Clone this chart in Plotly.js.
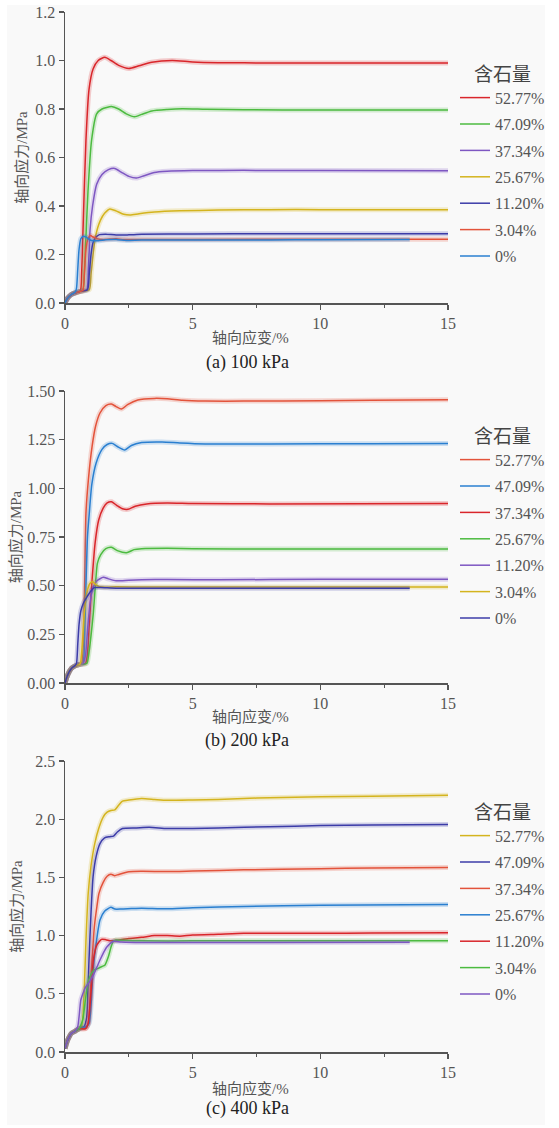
<!DOCTYPE html>
<html>
<head>
<meta charset="utf-8">
<script src="https://cdn.plot.ly/plotly-3.0.1.min.js"></script>
<style>html,body{margin:0;padding:0;background:#fff;}#chart{width:559px;height:1128px;}</style>
</head>
<body>
<div id="chart"></div>
<script>
// ---------- DATA ----------
const seriesNames = ['52.77%', '47.09%', '37.34%', '25.67%', '11.20%', '3.04%', '0%'];
const panelCaptions = ['(a) 100 kPa', '(b) 200 kPa', '(c) 400 kPa'];
const xTitle = '轴向应变/%';
const yTitle = '轴向应力/MPa';
const legendTitle = '含石量';

// Panel (a) 100 kPa
const a_5277_x = [0,0.1,0.25,0.4,0.6,0.65,0.72,0.82,0.94,1.1,1.3,1.56,1.8,2.1,2.5,2.9,3.4,4.2,5,6,8,10,12,15];
const a_5277_y = [0,0.02,0.035,0.042,0.05,0.12,0.35,0.67,0.88,0.965,1.0,1.013,1.0,0.98,0.967,0.978,0.993,1.0,0.994,0.991,0.99,0.99,0.99,0.99];
const a_4709_x = [0,0.1,0.25,0.4,0.55,0.7,0.76,0.82,0.9,1.04,1.24,1.45,1.82,2.1,2.4,2.73,3.0,3.4,4.0,4.6,5.5,7,10,12,15];
const a_4709_y = [0,0.02,0.035,0.042,0.047,0.052,0.13,0.27,0.46,0.67,0.78,0.8,0.81,0.8,0.78,0.768,0.778,0.792,0.798,0.801,0.799,0.797,0.796,0.796,0.796];
const a_3734_x = [0,0.1,0.25,0.4,0.6,0.85,0.92,0.98,1.08,1.24,1.45,1.7,1.95,2.2,2.5,2.8,3.1,3.5,4,5,7,10,15];
const a_3734_y = [0,0.02,0.035,0.042,0.048,0.055,0.15,0.3,0.4,0.49,0.53,0.55,0.555,0.54,0.522,0.515,0.525,0.538,0.543,0.546,0.547,0.546,0.545];
const a_2567_x = [0,0.1,0.25,0.4,0.6,0.95,1.02,1.1,1.17,1.28,1.39,1.55,1.76,2.0,2.3,2.55,2.9,3.5,4.5,6,8,10,15];
const a_2567_y = [0,0.02,0.035,0.042,0.048,0.055,0.12,0.2,0.26,0.31,0.342,0.37,0.388,0.38,0.366,0.363,0.368,0.375,0.38,0.383,0.385,0.385,0.385];
const a_1120_x = [0,0.1,0.25,0.4,0.6,0.88,0.95,1.02,1.1,1.2,1.35,1.6,2,2.5,3,5,8,15];
const a_1120_y = [0,0.02,0.035,0.042,0.048,0.055,0.12,0.2,0.25,0.27,0.282,0.284,0.28,0.281,0.283,0.285,0.286,0.286];
const a_304_x = [0,0.1,0.25,0.4,0.6,0.7,0.76,0.82,0.9,1.0,1.1,1.25,1.5,2,2.3,3,5,10,15];
const a_304_y = [0,0.02,0.035,0.042,0.048,0.052,0.12,0.22,0.265,0.278,0.272,0.265,0.262,0.265,0.262,0.262,0.262,0.263,0.263];
const a_0_x = [0,0.1,0.25,0.4,0.45,0.5,0.55,0.62,0.72,0.82,0.95,1.05,1.3,1.6,2,2.4,3,5,8,10,13.5];
const a_0_y = [0,0.02,0.035,0.045,0.06,0.14,0.22,0.265,0.275,0.272,0.262,0.258,0.257,0.261,0.262,0.258,0.26,0.26,0.26,0.261,0.262];

// Panel (b) 200 kPa
const b_5277_x = [0,0.1,0.25,0.4,0.55,0.65,0.72,0.77,0.82,0.92,1.06,1.2,1.37,1.6,1.82,2.0,2.21,2.45,2.85,3.5,4.0,4.6,5.5,7,10,12,15];
const b_5277_y = [0,0.04,0.075,0.088,0.095,0.1,0.2,0.5,0.87,1.05,1.214,1.32,1.387,1.425,1.433,1.42,1.407,1.43,1.454,1.462,1.46,1.452,1.448,1.448,1.45,1.452,1.455];
const b_4709_x = [0,0.1,0.25,0.4,0.55,0.7,0.76,0.82,0.88,0.95,1.05,1.22,1.45,1.65,1.85,2.05,2.34,2.6,3.0,3.8,4.5,5.5,8,12,15];
const b_4709_y = [0,0.04,0.075,0.088,0.095,0.1,0.2,0.5,0.75,0.87,1.02,1.13,1.2,1.225,1.231,1.215,1.197,1.22,1.235,1.238,1.233,1.228,1.228,1.229,1.23];
const b_3734_x = [0,0.1,0.25,0.4,0.55,0.8,0.88,0.95,1.06,1.18,1.32,1.5,1.65,1.82,2.05,2.25,2.47,2.75,3.2,4,5,8,15];
const b_3734_y = [0,0.04,0.075,0.088,0.095,0.1,0.15,0.3,0.529,0.72,0.837,0.9,0.925,0.931,0.91,0.895,0.892,0.908,0.92,0.925,0.922,0.92,0.922];
const b_2567_x = [0,0.1,0.25,0.4,0.55,0.85,0.93,1.0,1.11,1.2,1.27,1.4,1.6,1.82,2.05,2.41,2.7,3.0,4,5,8,15];
const b_2567_y = [0,0.04,0.075,0.088,0.095,0.1,0.15,0.22,0.36,0.52,0.616,0.66,0.69,0.697,0.68,0.669,0.685,0.69,0.692,0.69,0.688,0.688];
const b_1120_x = [0,0.1,0.25,0.4,0.55,0.7,0.8,0.9,1.0,1.1,1.25,1.5,1.7,2.0,2.5,3,4,6,10,15];
const b_1120_y = [0,0.04,0.075,0.088,0.095,0.1,0.14,0.3,0.43,0.49,0.525,0.543,0.535,0.525,0.528,0.53,0.532,0.53,0.533,0.533];
const b_304_x = [0,0.1,0.25,0.4,0.55,0.6,0.68,0.75,0.85,0.97,1.09,1.2,1.35,1.6,2,3,5,10,15];
const b_304_y = [0,0.04,0.075,0.088,0.095,0.1,0.2,0.35,0.46,0.51,0.52,0.505,0.495,0.492,0.494,0.493,0.493,0.493,0.493];
const b_0_x = [0,0.1,0.25,0.4,0.45,0.5,0.55,0.62,0.72,0.85,1.0,1.15,1.4,2,3,5,8,13.5];
const b_0_y = [0,0.04,0.075,0.09,0.1,0.2,0.3,0.37,0.41,0.44,0.47,0.49,0.49,0.487,0.487,0.487,0.487,0.487];

// Panel (c) 400 kPa
const c_5277_x = [0,0.1,0.25,0.4,0.55,0.65,0.7,0.75,0.82,0.91,1.02,1.17,1.32,1.5,1.65,1.8,1.95,2.1,2.25,2.5,3.0,3.5,4,5,6,7,8,10,12,15];
const c_5277_y = [0.03,0.1,0.16,0.18,0.2,0.22,0.3,0.507,0.95,1.366,1.6,1.795,1.92,2.02,2.06,2.075,2.08,2.12,2.155,2.165,2.178,2.17,2.162,2.165,2.17,2.178,2.185,2.192,2.198,2.205];
const c_4709_x = [0,0.1,0.25,0.4,0.55,0.75,0.85,0.9,0.94,1.02,1.1,1.22,1.37,1.55,1.75,1.9,2.05,2.25,2.8,3.3,4,5,6,8,10,12,15];
const c_4709_y = [0.03,0.1,0.16,0.18,0.2,0.22,0.3,0.55,0.79,1.2,1.506,1.68,1.79,1.84,1.85,1.855,1.89,1.92,1.925,1.93,1.92,1.92,1.925,1.935,1.945,1.95,1.955];
const c_3734_x = [0,0.1,0.25,0.4,0.55,0.8,0.92,0.98,1.05,1.15,1.25,1.33,1.5,1.65,1.8,1.95,2.1,2.5,3,4,5,7,10,12,15];
const c_3734_y = [0.03,0.1,0.16,0.18,0.2,0.2,0.25,0.45,0.75,1.076,1.25,1.363,1.46,1.51,1.526,1.515,1.525,1.548,1.552,1.55,1.555,1.565,1.575,1.58,1.584];
const c_2567_x = [0,0.1,0.25,0.4,0.55,0.85,0.95,1.02,1.1,1.22,1.37,1.55,1.8,1.95,2.2,2.6,3,4,5,7,10,15];
const c_2567_y = [0.03,0.1,0.16,0.18,0.2,0.22,0.25,0.4,0.7,0.934,1.134,1.21,1.243,1.228,1.228,1.232,1.235,1.23,1.24,1.25,1.26,1.268];
const c_1120_x = [0,0.1,0.25,0.4,0.55,0.8,0.9,0.98,1.05,1.11,1.25,1.43,1.6,1.8,2.0,2.5,3.0,3.5,4,4.5,5,6,7,8,10,12,15];
const c_1120_y = [0.03,0.1,0.16,0.18,0.2,0.2,0.24,0.4,0.6,0.79,0.92,0.968,0.965,0.955,0.96,0.975,0.985,1.0,1.0,0.995,1.005,1.012,1.02,1.02,1.02,1.022,1.025];
const c_304_x = [0,0.1,0.25,0.4,0.55,0.6,0.7,0.8,0.9,1.04,1.15,1.3,1.45,1.56,1.7,1.8,1.88,2.0,2.2,3,5,8,15];
const c_304_y = [0.03,0.1,0.16,0.18,0.2,0.22,0.28,0.45,0.6,0.676,0.705,0.719,0.735,0.746,0.82,0.9,0.948,0.962,0.96,0.955,0.955,0.955,0.956];
const c_0_x = [0,0.1,0.25,0.4,0.5,0.55,0.62,0.7,0.78,0.95,1.11,1.25,1.37,1.5,1.63,1.88,2.2,3,5,8,13.5];
const c_0_y = [0.03,0.1,0.16,0.18,0.22,0.3,0.447,0.5,0.547,0.6,0.66,0.73,0.79,0.85,0.9,0.95,0.945,0.94,0.94,0.94,0.942];

// ---------- STYLE ----------
const C = {
  red: '#d9262b', green: '#4cbb40', purple: '#7e57c2', gold: '#d4b41e',
  indigo: '#3c3ca8', orange: '#e3533b', blue: '#2a7fd0'
};
const panels = [
  { data: [[a_5277_x,a_5277_y],[a_4709_x,a_4709_y],[a_3734_x,a_3734_y],[a_2567_x,a_2567_y],[a_1120_x,a_1120_y],[a_304_x,a_304_y],[a_0_x,a_0_y]],
    colors: [C.red, C.green, C.purple, C.gold, C.indigo, C.orange, C.blue] },
  { data: [[b_5277_x,b_5277_y],[b_4709_x,b_4709_y],[b_3734_x,b_3734_y],[b_2567_x,b_2567_y],[b_1120_x,b_1120_y],[b_304_x,b_304_y],[b_0_x,b_0_y]],
    colors: [C.orange, C.blue, C.red, C.green, C.purple, C.gold, C.indigo] },
  { data: [[c_5277_x,c_5277_y],[c_4709_x,c_4709_y],[c_3734_x,c_3734_y],[c_2567_x,c_2567_y],[c_1120_x,c_1120_y],[c_304_x,c_304_y],[c_0_x,c_0_y]],
    colors: [C.gold, C.indigo, C.orange, C.blue, C.red, C.green, C.purple] }
];

function hexA(hex, a) {
  const n = parseInt(hex.slice(1), 16);
  return 'rgba(' + ((n >> 16) & 255) + ',' + ((n >> 8) & 255) + ',' + (n & 255) + ',' + a + ')';
}

const W = 559, H = 1128;
const FONT = 'Liberation Serif, Noto Sans CJK SC, serif';
const px2x = p => p / W;
const py2y = p => 1 - p / H;
const plotPx = [[12, 303], [391, 683], [761, 1052]];
const yRanges = [[0, 1.2], [0, 1.5], [0, 2.5]];
const yDticks = [0.2, 0.25, 0.5];
const yFormats = ['.1f', '.2f', '.1f'];
const yStandoff = [4, 2, 9];
const legendTopPx = [56, 418, 794];
const xTitlePx = [338, 716, 1088];
const captionPx = [362, 740, 1108];

const traces = [];
const layout = {
  width: W, height: H,
  margin: { l: 0, r: 0, t: 0, b: 0 },
  paper_bgcolor: '#ffffff',
  plot_bgcolor: 'rgba(0,0,0,0)',
  showlegend: true,
  font: { family: FONT, color: '#444' },
  shapes: [{ type: 'rect', xref: 'paper', yref: 'paper', layer: 'below',
             x0: px2x(7), x1: px2x(545), y0: py2y(1125), y1: py2y(5),
             fillcolor: '#f9f9f9', line: { width: 0 } }],
  annotations: []
};

panels.forEach((p, i) => {
  const k = i === 0 ? '' : String(i + 1);
  const legendName = 'legend' + k;
  p.data.forEach((d, j) => {
    const grp = 'p' + i + 's' + j;
    traces.push({
      x: d[0], y: d[1], type: 'scatter', mode: 'lines',
      xaxis: 'x' + k, yaxis: 'y' + k, legend: legendName, legendgroup: grp,
      showlegend: false, hoverinfo: 'skip',
      line: { color: hexA(p.colors[j], 0.22), width: 5, shape: 'spline', smoothing: 0.6 }
    });
    traces.push({
      x: d[0], y: d[1], type: 'scatter', mode: 'lines', name: seriesNames[j],
      xaxis: 'x' + k, yaxis: 'y' + k, legend: legendName, legendgroup: grp,
      line: { color: p.colors[j], width: 1.5, shape: 'spline', smoothing: 0.6 }
    });
  });
  const dom = [py2y(plotPx[i][1]), py2y(plotPx[i][0])];
  layout['xaxis' + k] = {
    domain: [px2x(65), px2x(448)], anchor: 'y' + k, range: [0, 15],
    tickvals: [0, 5, 10, 15], ticks: 'outside', ticklen: 5, tickwidth: 1.2, tickcolor: '#555',
    minor: { tickvals: [2.5, 7.5, 12.5], ticks: 'outside', ticklen: 3, tickwidth: 1.2, tickcolor: '#555' },
    showline: true, linecolor: '#555', linewidth: 1.5, showgrid: false, zeroline: false,
    tickfont: { family: FONT, size: 16, color: '#555' }
  };
  layout['yaxis' + k] = {
    domain: dom, anchor: 'x' + k, range: yRanges[i], dtick: yDticks[i], tick0: 0,
    tickformat: yFormats[i], ticks: 'outside', ticklen: 5, tickwidth: 1.2, tickcolor: '#555',
    showline: true, linecolor: '#555', linewidth: 1.5, showgrid: false, zeroline: false,
    tickfont: { family: FONT, size: 16, color: '#555' },
    title: { text: yTitle, font: { family: FONT, size: 15, color: '#555' }, standoff: yStandoff[i] }
  };
  layout[legendName] = {
    x: px2x(455), y: py2y(legendTopPx[i]), xanchor: 'left', yanchor: 'top',
    bgcolor: 'rgba(0,0,0,0)', borderwidth: 0,
    font: { family: FONT, size: 16, color: '#555' },
    title: { text: legendTitle, side: 'top center', font: { family: FONT, size: 19, color: '#444' } },
    traceorder: 'grouped', tracegroupgap: 2.6, itemwidth: 30
  };
  layout.annotations.push({
    xref: 'paper', yref: 'paper', x: px2x(250), y: py2y(xTitlePx[i]),
    xanchor: 'center', yanchor: 'middle', showarrow: false,
    text: xTitle, font: { family: FONT, size: 15, color: '#555' }
  });
  layout.annotations.push({
    xref: 'paper', yref: 'paper', x: px2x(247), y: py2y(captionPx[i]),
    xanchor: 'center', yanchor: 'middle', showarrow: false,
    text: panelCaptions[i], font: { family: FONT, size: 18, color: '#222' }
  });
});

Plotly.newPlot('chart', traces, layout, { displayModeBar: false, staticPlot: true });
</script>
</body>
</html>
